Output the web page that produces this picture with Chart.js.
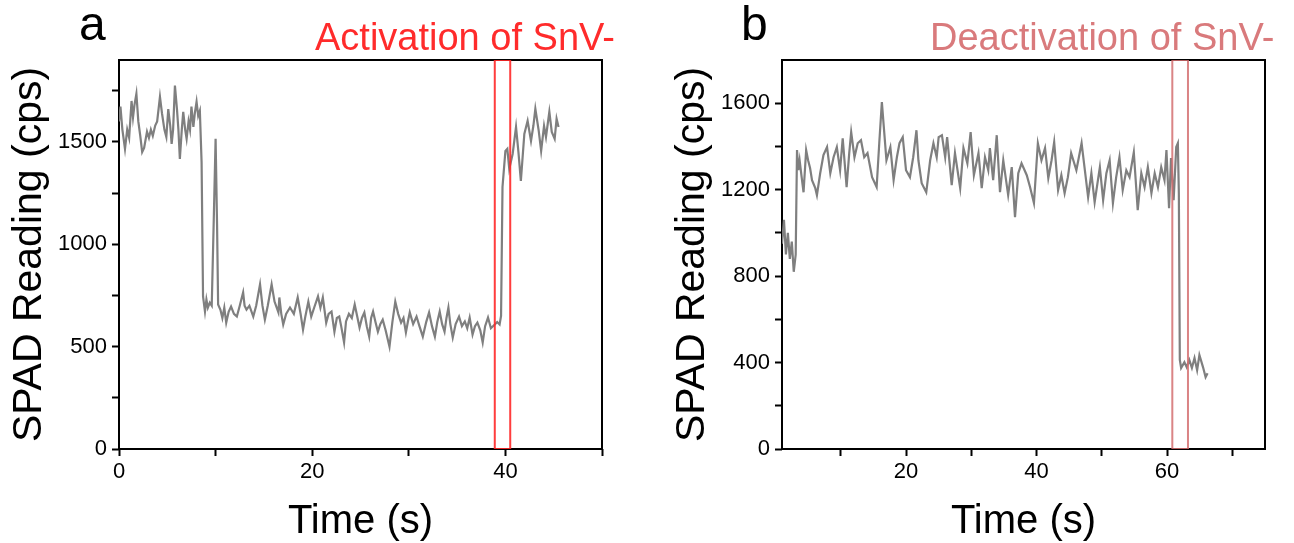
<!DOCTYPE html>
<html><head><meta charset="utf-8">
<script src="https://cdn.jsdelivr.net/npm/chart.js@4.4.0/dist/chart.umd.min.js"></script>
<style>
html,body{margin:0;padding:0;background:#fff;width:1294px;height:543px;overflow:hidden;font-family:"Liberation Sans",Arial,sans-serif;}
.wrap{position:absolute;top:0;width:647px;height:543px;}
.lbl{position:absolute;line-height:1;white-space:nowrap;}
</style></head><body>
<div class="wrap" style="left:0"><canvas id="ca" width="647" height="543"></canvas></div>
<div class="wrap" style="left:647px"><canvas id="cb" width="647" height="543"></canvas></div>
<div class="lbl" style="left:79px;top:0px;font-size:48px;color:#000">a</div>
<div class="lbl" style="left:315px;top:18px;font-size:38px;color:#ff2b2b">Activation of SnV-</div>
<div class="lbl" style="left:741px;top:0px;font-size:48px;color:#000">b</div>
<div class="lbl" style="left:930px;top:18px;font-size:38px;color:#d97a7c">Deactivation of SnV-</div>
<script>
// ---- Panel a data ----
const aTime = [0.0,0.15,0.35,0.62,0.85,1.05,1.3,1.45,1.6,1.8,2.0,2.2,2.4,2.6,2.9,3.1,3.3,3.5,3.75,3.95,4.24,4.45,4.7,4.9,5.1,5.3,5.45,5.6,5.79,6.0,6.15,6.3,6.5,6.65,6.85,7.0,7.2,7.35,7.5,7.7,7.85,8.03,8.2,8.37,8.55,8.7,8.9,9.05,9.2,9.4,9.6,9.8,10.0,10.15,10.26,10.5,10.7,10.9,11.1,11.35,11.6,11.9,12.2,12.5,12.85,13.0,13.2,13.5,13.9,14.2,14.6,14.85,15.1,15.4,15.8,16.1,16.5,16.6,16.8,17.0,17.3,17.7,18.1,18.5,18.8,19.05,19.3,19.6,19.9,20.2,20.6,20.85,21.1,21.45,21.7,22.0,22.3,22.55,22.8,23.0,23.3,23.5,23.8,24.1,24.4,24.65,24.9,25.15,25.4,25.65,25.9,26.1,26.3,26.55,26.8,27.05,27.3,27.6,28.0,28.3,28.6,28.9,29.2,29.45,29.7,29.9,30.1,30.45,30.8,31.1,31.45,31.8,32.1,32.4,32.7,32.95,33.2,33.45,33.7,33.9,34.1,34.3,34.55,34.85,35.2,35.5,35.8,36.05,36.3,36.6,36.85,37.1,37.4,37.65,37.9,38.2,38.5,38.9,39.15,39.4,39.55,39.7,40.0,40.2,40.4,40.75,41.1,41.35,41.6,41.96,42.3,42.65,42.9,43.1,43.45,43.7,44.0,44.2,44.55,44.8,45.1,45.3,45.5];
const aCounts = [1600,1672,1560,1466,1560,1520,1700,1620,1680,1735,1600,1530,1450,1470,1550,1520,1560,1530,1580,1600,1720,1640,1560,1524,1660,1580,1490,1560,1775,1660,1560,1417,1560,1647,1560,1515,1600,1560,1672,1573,1640,1696,1627,1652,1400,745,671,730,690,715,700,1100,1515,1100,706,680,640,690,617,670,696,660,647,700,765,700,681,700,647,700,804,700,632,700,804,720,667,740,660,608,660,691,660,740,660,583,650,720,647,690,745,690,740,617,660,671,573,640,647,600,520,623,660,640,706,650,593,640,667,600,549,640,671,620,573,610,632,580,500,620,720,660,617,640,569,620,667,610,647,600,549,620,667,600,549,620,671,610,573,640,691,610,544,610,647,600,623,590,642,559,600,617,580,520,600,642,590,608,620,608,650,1280,1456,1466,1368,1441,1573,1450,1309,1539,1603,1505,1580,1662,1554,1456,1578,1524,1647,1549,1515,1613,1573];
const aBoxX = [38.9, 40.5];
const aXTicks = [0,10,20,30,40,50];
const aXLabels = [0,20,40];
const aYTicks = [0,250,500,750,1000,1250,1500,1750];
const aYLabels = [0,500,1000,1500];

// ---- Panel b data ----
const bTime = [1.0,1.3,1.6,1.9,2.2,2.5,2.8,3.1,3.3,3.5,3.7,4.0,4.3,4.7,5.0,5.3,5.6,6.1,6.35,6.85,7.35,7.9,8.4,8.9,9.4,9.9,10.3,10.9,11.3,11.6,12.1,12.6,13.1,13.6,14.1,14.8,15.5,15.9,16.3,16.6,17.0,17.6,18.1,18.6,19.0,19.5,20.0,20.6,21.1,21.6,21.9,22.4,23.1,23.7,24.2,24.7,25.0,25.5,26.0,26.3,27.0,27.5,28.3,28.8,29.4,29.9,30.4,31.1,31.6,32.1,32.6,32.85,33.35,33.9,34.4,34.9,35.65,36.2,36.7,37.2,37.7,38.5,39.0,39.6,40.2,40.75,41.3,41.8,42.3,42.7,43.3,43.8,44.3,44.8,45.3,46.1,46.9,47.4,47.9,48.4,48.9,49.7,50.2,50.7,51.2,51.7,52.2,52.7,53.2,53.75,54.25,54.9,55.5,56.05,56.55,57.05,57.6,58.1,58.6,59.1,59.6,59.9,60.3,60.6,61.0,61.4,61.65,61.8,61.95,62.15,62.65,63.0,63.4,63.8,64.2,64.6,64.95,65.5,65.9,66.2];
const bCounts = [950,1060,900,1000,880,960,820,900,1383,1290,1336,1260,1188,1383,1336,1300,1244,1207,1175,1276,1360,1397,1276,1350,1397,1290,1438,1212,1369,1466,1350,1415,1429,1350,1369,1258,1212,1415,1605,1489,1336,1397,1244,1350,1415,1443,1290,1258,1350,1475,1336,1230,1188,1336,1415,1350,1443,1452,1350,1443,1221,1369,1207,1392,1322,1466,1267,1369,1207,1350,1290,1392,1244,1452,1188,1336,1175,1304,1073,1276,1322,1267,1212,1138,1415,1336,1392,1253,1336,1420,1198,1267,1184,1258,1369,1290,1415,1290,1165,1276,1142,1304,1151,1276,1336,1138,1258,1350,1198,1290,1258,1373,1105,1276,1212,1304,1184,1276,1212,1304,1244,1383,1114,1346,1151,1397,1415,1184,412,375,402,379,412,375,421,365,435,379,333,351];
const bBoxX = [60.8, 63.2];
const bXTicks = [10,20,30,40,50,60,70];
const bXLabels = [20,40,60];
const bYTicks = [0,200,400,600,800,1000,1200,1400,1600];
const bYLabels = [0,400,800,1200,1600];

const FONT = '"Liberation Sans", Arial, sans-serif';

const framePlugin = {
  id: 'frame',
  beforeDatasetsDraw(chart) {
    const {ctx, chartArea: {left, top, right, bottom}} = chart;
    ctx.save();
    ctx.strokeStyle = '#000';
    ctx.lineWidth = 2;
    ctx.strokeRect(left, top, right - left, bottom - top);
    ctx.restore();
  }
};

function makeChart(id, times, counts, boxX, boxColor, xMin, xMax, yMax, xTicks, xLabels, yTicks, yLabels, padLeft, padRight) {
  const lineData = times.map((t, i) => ({x: t, y: counts[i]}));
  const boxData = [
    {x: boxX[0], y: 0}, {x: boxX[0], y: yMax}, {x: boxX[1], y: yMax},
    {x: boxX[1], y: 0}, {x: boxX[0], y: 0}
  ];
  return new Chart(document.getElementById(id), {
    type: 'line',
    data: {
      datasets: [
        {data: boxData, borderColor: boxColor, borderWidth: 2, pointRadius: 0, fill: false, tension: 0},
        {data: lineData, borderColor: '#7f7f7f', borderWidth: 2.2, pointRadius: 0, fill: false, tension: 0}
      ]
    },
    options: {
      responsive: false,
      animation: false,
      events: [],
      layout: {padding: {top: 60, right: padRight, left: padLeft, bottom: 0}},
      plugins: {legend: {display: false}, tooltip: {enabled: false}},
      scales: {
        x: {
          type: 'linear', min: xMin, max: xMax,
          afterFit: s => { s.height = 94; },
          afterBuildTicks: s => { s.ticks = xTicks.map(v => ({value: v})); },
          ticks: {
            autoSkip: false, maxRotation: 0, padding: 3, color: '#000',
            font: {family: FONT, size: 22},
            callback: v => xLabels.includes(v) ? String(v) : ''
          },
          grid: {drawOnChartArea: false, drawTicks: true, tickLength: 7, tickWidth: 2, tickColor: '#000'},
          border: {display: false},
          title: {display: true, text: 'Time (s)', color: '#000', font: {family: FONT, size: 40}, padding: {top: 0, bottom: -3}}
        },
        y: {
          type: 'linear', min: 0, max: yMax,
          afterFit: s => { s.width = 119; },
          afterBuildTicks: s => { s.ticks = yTicks.map(v => ({value: v})); },
          ticks: {
            autoSkip: false, padding: 5, color: '#000',
            font: {family: FONT, size: 22},
            callback: v => yLabels.includes(v) ? String(v) : ''
          },
          grid: {drawOnChartArea: false, drawTicks: true, tickLength: 7, tickWidth: 2, tickColor: '#000'},
          border: {display: false},
          title: {display: true, text: 'SPAD Reading (cps)', color: '#000', font: {family: FONT, size: 41}, padding: {top: 5, bottom: 0}}
        }
      }
    },
    plugins: [framePlugin]
  });
}

makeChart('ca', aTime, aCounts, aBoxX, 'rgba(255,40,40,0.9)', 0, 50, 1900, aXTicks, aXLabels, aYTicks, aYLabels, 0, 45);
makeChart('cb', bTime, bCounts, bBoxX, 'rgba(212,110,112,0.85)', 1, 75, 1800, bXTicks, bXLabels, bYTicks, bYLabels, 16, 29);
</script>
</body></html>
